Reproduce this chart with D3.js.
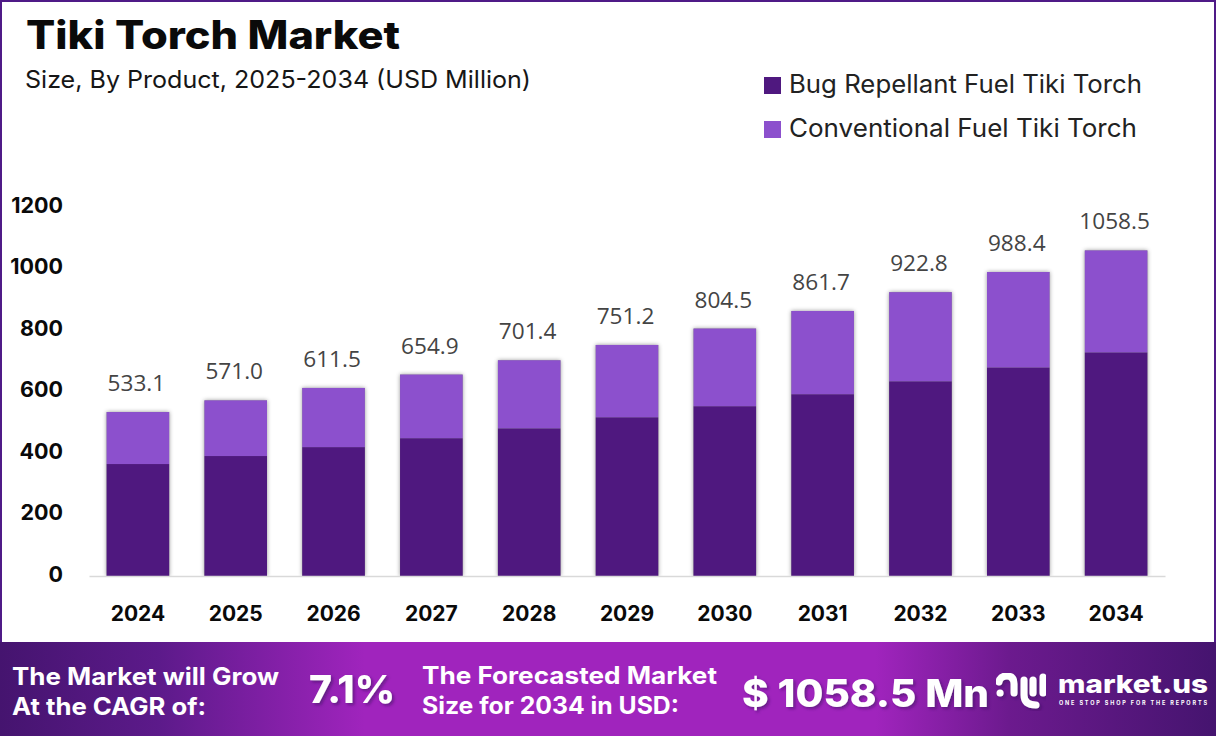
<!DOCTYPE html>
<html><head><meta charset="utf-8">
<script src="https://cdn.jsdelivr.net/npm/d3@7/dist/d3.min.js"></script>
<style>
html,body{margin:0;padding:0;background:#fff;overflow:hidden}
svg{display:block}
text{font-family:Inter,"Open Sans",sans-serif}
</style></head><body>
<script>
const years = ["2024","2025","2026","2027","2028","2029","2030","2031","2032","2033","2034"];
const totalLabels = ["533.1","571.0","611.5","654.9","701.4","751.2","804.5","861.7","922.8","988.4","1058.5"];
const bugRepellant = [364,390,419,448,480,516,552,591,633,678,727];
const conventional = [169.1,181,192.5,206.9,221.4,235.2,252.5,270.7,289.8,310.4,331.5];
const yTicks = [0,200,400,600,800,1000,1200];
const seriesNames = ["Bug Repellant Fuel Tiki Torch","Conventional Fuel Tiki Torch"];
const seriesColors = ["#4f187f","#8c50cd"];

const W=1216,H=736;
const svg=d3.select("body").append("svg").attr("width",W).attr("height",H).attr("viewBox",`0 0 ${W} ${H}`);
const defs=svg.append("defs");
const grad=defs.append("linearGradient").attr("id","band");
[[0,"#45146f"],[0.13,"#5c1a8a"],[0.3,"#a024bd"],[0.72,"#a024bd"],[0.83,"#6c1a8e"],[1,"#45146f"]]
 .forEach(([o,c])=>grad.append("stop").attr("offset",o).attr("stop-color",c));
const sh=defs.append("filter").attr("id","barShadow").attr("x","-15%").attr("width","130%").attr("y","-5%").attr("height","105%");
sh.append("feGaussianBlur").attr("in","SourceAlpha").attr("stdDeviation",2).attr("result","b");
sh.append("feFlood").attr("flood-color","#000").attr("flood-opacity",0.42);
sh.append("feComposite").attr("in2","b").attr("operator","in").attr("result","s");
const mg=sh.append("feMerge");mg.append("feMergeNode").attr("in","s");mg.append("feMergeNode").attr("in","SourceGraphic");
const ts=defs.append("filter").attr("id","textShadow").attr("x","-5%").attr("width","110%").attr("y","-10%").attr("height","130%");
ts.append("feDropShadow").attr("dx",2).attr("dy",2).attr("stdDeviation",1.5).attr("flood-color","#3a0f60").attr("flood-opacity",0.55);

// frame
svg.append("path").attr("d",`M1,642V1H${W-1}V642`).attr("fill","none").attr("stroke","#4f1a87").attr("stroke-width",2);

// scales
const x=d3.scaleBand().domain(years).range([89,1165]).paddingInner(0.36).paddingOuter(0.18);
const y=d3.scaleLinear().domain([0,1200]).range([576,206.9]);

// title
function fit(sel,w,adj){return sel.attr("textLength",w).attr("lengthAdjust",adj||"spacingAndGlyphs");}
fit(svg.append("text").attr("x",26).attr("y",49).attr("font-size",39).attr("font-weight",800).attr("fill","#0a0a0a").text("Tiki Torch Market"),374);
fit(svg.append("text").attr("x",25).attr("y",88).attr("font-size",24).attr("font-weight",400).attr("fill","#161616").text("Size, By Product, 2025-2034 (USD Million)"),506);

// legend
const legY=[85,129],legW=[353,348];
seriesNames.forEach((n,i)=>{
  svg.append("rect").attr("x",764).attr("y",legY[i]-8).attr("width",17).attr("height",17).attr("fill",seriesColors[i]);
  fit(svg.append("text").attr("x",789).attr("y",legY[i]+8).attr("font-size",25).attr("fill","#222").text(n),legW[i]);
});

// y labels
const yAxis=d3.axisLeft(y).tickValues(yTicks).tickFormat(d3.format("d")).tickSize(0).tickPadding(0);
const gy=svg.append("g").attr("transform","translate(63,0)").call(yAxis);
gy.select(".domain").remove();
gy.selectAll("text").attr("font-size",21.5).attr("font-weight",700).attr("fill","#0a0a0a")
  .attr("font-family","Inter,sans-serif").attr("dy","0.32em").attr("transform","translate(0,-1.5)");

// stacked bars
const rows=years.map((yr,i)=>({year:yr,a:bugRepellant[i],b:conventional[i]}));
const stacked=d3.stack().keys(["a","b"])(rows);
const gb=svg.append("g");
gb.selectAll("rect.s").data(rows).join("rect").attr("class","s")
  .attr("x",d=>x(d.year)).attr("width",x.bandwidth())
  .attr("y",d=>y(d.a+d.b)).attr("height",d=>y(0)-y(d.a+d.b)).attr("fill","#888").attr("filter","url(#barShadow)");
stacked.forEach((s,k)=>{
  gb.selectAll("rect.k"+k).data(s).join("rect").attr("class","k"+k)
    .attr("x",d=>x(d.data.year)).attr("width",x.bandwidth())
    .attr("y",d=>y(d[1])).attr("height",d=>y(d[0])-y(d[1])).attr("fill",seriesColors[k]);
});

// x axis
const xAxis=d3.axisBottom(x).tickSize(0).tickPadding(0);
const gx=svg.append("g").attr("transform","translate(0,576)").call(xAxis);
gx.select(".domain").attr("stroke","#d9d9d9").attr("stroke-width",1.6);
gx.selectAll("text").attr("font-size",21).attr("font-weight",700).attr("fill","#0a0a0a")
  .attr("font-family","Inter,sans-serif").attr("y",0).attr("dy",0).attr("transform","translate(0,45)");

// totals
svg.append("g").selectAll("text").data(rows).join("text")
  .attr("x",d=>x(d.year)+x.bandwidth()/2-1.5).attr("y",d=>y(d.a+d.b)-21)
  .attr("text-anchor","middle").attr("font-size",22.6).attr("fill","#444")
  .style("font-family","'Open Sans',sans-serif")
  .text((d,i)=>totalLabels[i]);

// banner
svg.append("rect").attr("x",0).attr("y",642).attr("width",W).attr("height",94).attr("fill","url(#band)");
function bt(t,xp,yp,fs,w,fw,f,adj){const s=svg.append("text").attr("x",xp).attr("y",yp).attr("font-size",fs).attr("font-weight",fw||700).attr("fill","#fff").text(t);
  if(w)fit(s,w,adj); if(f)s.attr("filter","url(#textShadow)"); return s;}
bt("The Market will Grow",12,685,24,267);
bt("At the CAGR of:",12,715,24,194);
bt("7.1%",309,703,38,86,800,true);
bt("The Forecasted Market",422,684,24,295);
bt("Size for 2034 in USD:",422,714,24,257);
bt("$ 1058.5 Mn",742,707,38,247,800,true);

// logo
const lg=svg.append("g").attr("fill","none").attr("stroke","#fff").attr("stroke-width",7).attr("stroke-linecap","round").attr("filter","url(#textShadow)");
lg.append("path").attr("d","M999,682 Q1000,676 1007,676 Q1014,676 1014,684 V693");
lg.append("path").attr("d","M1024,680 V695 Q1024,705 1036,705");
lg.append("path").attr("d","M1033,680 V693");
lg.append("path").attr("d","M1043,677 V693");
lg.append("path").attr("d","M1000,693 h0.1");
bt("market.us",1058,693,25,150,800);
bt("ONE STOP SHOP FOR THE REPORTS",1059,705,5.5,148,700,false,"spacing");
</script>
</body></html>
